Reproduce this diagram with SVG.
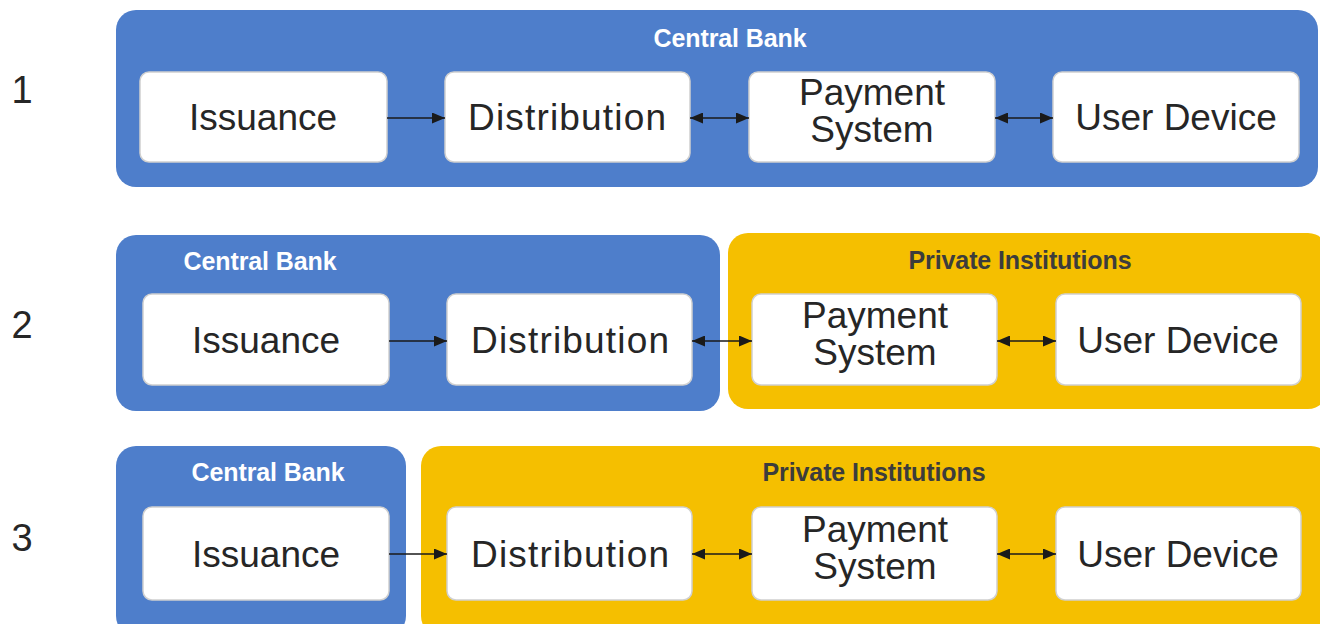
<svg xmlns="http://www.w3.org/2000/svg" width="1320" height="624" viewBox="0 0 1320 624">
<defs>
<style>
.cb{fill:#4E7ECB}
.pi{fill:#F5BF00}
.box{fill:#FFFFFF;stroke:#D0D0D0;stroke-width:1.5}
.lbl{font-family:"Liberation Sans",Arial,sans-serif;font-size:37px;fill:#262626;text-anchor:middle}
.num{font-family:"Liberation Sans",Arial,sans-serif;font-size:38px;fill:#262626;text-anchor:middle}
.tcb{font-family:"Liberation Sans",Arial,sans-serif;font-size:25px;font-weight:bold;fill:#FFFFFF;text-anchor:middle;letter-spacing:-0.1px}
.tpi{font-family:"Liberation Sans",Arial,sans-serif;font-size:25px;font-weight:bold;fill:#3C3C3C;text-anchor:middle;letter-spacing:-0.1px}
.con{stroke:#1A1A1A;stroke-width:1.6;fill:none}
</style>
<marker id="ah" viewBox="0 0 13 11" refX="13" refY="5.5" markerWidth="13" markerHeight="11" markerUnits="userSpaceOnUse" orient="auto-start-reverse">
<path d="M0,0 L13,5.5 L0,11 Z" fill="#1A1A1A"/>
</marker>
</defs>
<rect width="1320" height="624" fill="#FFFFFF"/>

<g id="row-numbers">
<text class="num" x="22" y="103">1</text>
<text class="num" x="22" y="338">2</text>
<text class="num" x="22" y="551">3</text>
</g>

<g id="panel-1-central-bank">
<rect class="cb" x="116" y="10" width="1202" height="177" rx="20"/>
<text class="tcb" x="730" y="47">Central Bank</text>
</g>
<g id="panel-2-central-bank">
<rect class="cb" x="116" y="235" width="604" height="176" rx="20"/>
<text class="tcb" x="260" y="270">Central Bank</text>
</g>
<g id="panel-2-private">
<rect class="pi" x="728" y="233" width="600" height="176" rx="20"/>
<text class="tpi" x="1020" y="269">Private Institutions</text>
</g>
<g id="panel-3-central-bank">
<rect class="cb" x="116" y="446" width="290" height="190" rx="20"/>
<text class="tcb" x="268" y="481">Central Bank</text>
</g>
<g id="panel-3-private">
<rect class="pi" x="421" y="446" width="910" height="190" rx="20"/>
<text class="tpi" x="874" y="481">Private Institutions</text>
</g>

<g id="r1-issuance"><rect class="box" x="140" y="72" width="247" height="90" rx="9"/><text class="lbl" x="263" y="130">Issuance</text></g>
<g id="r1-distribution"><rect class="box" x="445" y="72" width="245" height="90" rx="9"/><text class="lbl" x="567" y="130" textLength="198">Distribution</text></g>
<g id="r1-payment"><rect class="box" x="749" y="72" width="246" height="90" rx="9"/><text class="lbl" x="872" y="105">Payment</text><text class="lbl" x="872" y="142">System</text></g>
<g id="r1-user"><rect class="box" x="1053" y="72" width="246" height="90" rx="9"/><text class="lbl" x="1176" y="130">User Device</text></g>

<g id="r2-issuance"><rect class="box" x="143" y="294" width="246" height="91" rx="9"/><text class="lbl" x="266" y="353">Issuance</text></g>
<g id="r2-distribution"><rect class="box" x="447" y="294" width="245" height="91" rx="9"/><text class="lbl" x="570" y="353" textLength="198">Distribution</text></g>
<g id="r2-payment"><rect class="box" x="752" y="294" width="245" height="91" rx="9"/><text class="lbl" x="875" y="328">Payment</text><text class="lbl" x="875" y="365">System</text></g>
<g id="r2-user"><rect class="box" x="1056" y="294" width="245" height="91" rx="9"/><text class="lbl" x="1178" y="353">User Device</text></g>

<g id="r3-issuance"><rect class="box" x="143" y="507" width="246" height="93" rx="9"/><text class="lbl" x="266" y="567">Issuance</text></g>
<g id="r3-distribution"><rect class="box" x="447" y="507" width="245" height="93" rx="9"/><text class="lbl" x="570" y="567" textLength="198">Distribution</text></g>
<g id="r3-payment"><rect class="box" x="752" y="507" width="245" height="93" rx="9"/><text class="lbl" x="875" y="542">Payment</text><text class="lbl" x="875" y="579">System</text></g>
<g id="r3-user"><rect class="box" x="1056" y="507" width="245" height="93" rx="9"/><text class="lbl" x="1178" y="567">User Device</text></g>

<g id="connectors">
<line class="con" x1="387" y1="118" x2="445" y2="118" marker-end="url(#ah)"/>
<line class="con" x1="690" y1="118" x2="749" y2="118" marker-start="url(#ah)" marker-end="url(#ah)"/>
<line class="con" x1="995" y1="118" x2="1053" y2="118" marker-start="url(#ah)" marker-end="url(#ah)"/>
<line class="con" x1="389" y1="341" x2="447" y2="341" marker-end="url(#ah)"/>
<line class="con" x1="692" y1="341" x2="752" y2="341" marker-start="url(#ah)" marker-end="url(#ah)"/>
<line class="con" x1="997" y1="341" x2="1056" y2="341" marker-start="url(#ah)" marker-end="url(#ah)"/>
<line class="con" x1="389" y1="554" x2="447" y2="554" marker-end="url(#ah)"/>
<line class="con" x1="692" y1="554" x2="752" y2="554" marker-start="url(#ah)" marker-end="url(#ah)"/>
<line class="con" x1="997" y1="554" x2="1056" y2="554" marker-start="url(#ah)" marker-end="url(#ah)"/>
</g>
</svg>
